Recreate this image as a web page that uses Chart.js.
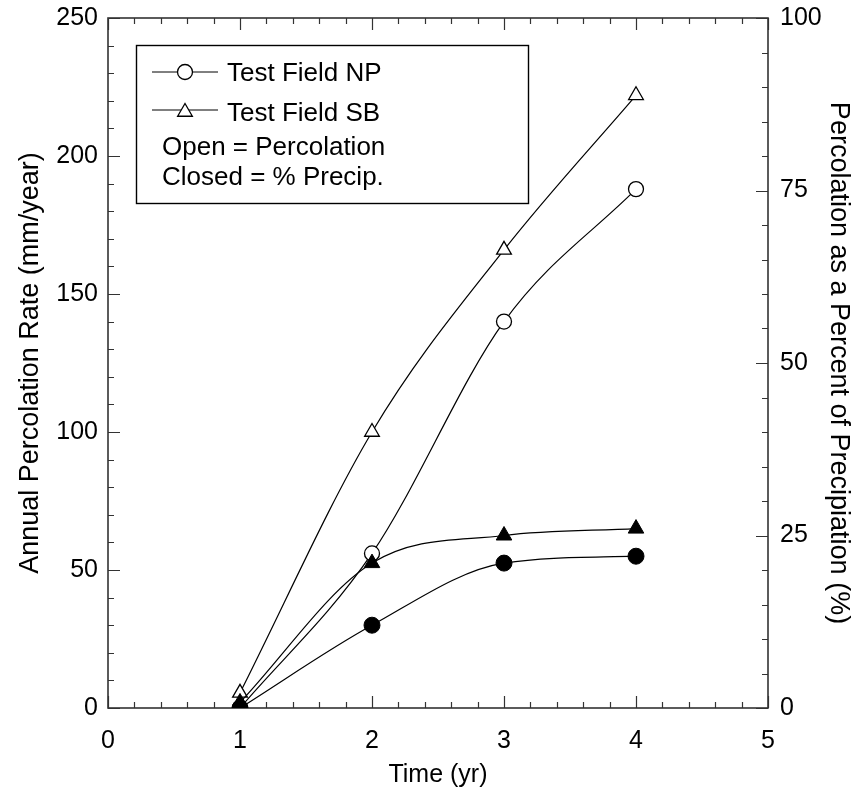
<!DOCTYPE html>
<html>
<head>
<meta charset="utf-8">
<title>Percolación anual</title>
<script src="https://cdn.jsdelivr.net/npm/chart.js@4/dist/chart.umd.min.js"></script>
<style>
    html, body { margin: 0; padding: 0; background: #fff; }
</style>
</head>
<body>
<canvas id="graficoPercolacion" width="857" height="794"></canvas>
<script>
// Años de medición
const anios = [1, 2, 3, 4];
// Percolación anual (mm/año) - eje izquierdo, marcadores abiertos
const percolacionNP = [0, 56, 140, 188];
const percolacionSB = [5.5, 100, 166, 222];
// Percolación como % de la precipitación - eje derecho, marcadores cerrados
const porcentajeNP = [0, 12, 21, 22];
const porcentajeSB = [0.8, 21, 25, 26];
// Marcas de los ejes
const ticksX = [0, 1, 2, 3, 4, 5];
const ticksIzq = [0, 50, 100, 150, 200, 250];
const ticksDer = [0, 25, 50, 75, 100];

const FUENTE = "'Liberation Sans', Arial, Helvetica, sans-serif";
const COLOR_EJE = '#333';

// Convierte una serie en pares {x, y}
function pares(valores) {
    return anios.map((a, i) => ({ x: a, y: valores[i] }));
}

// Marcas hacia adentro y marco del área de trazado
const marcasInternas = {
    id: 'marcasInternas',
    beforeDatasetsDraw(chart) {
        const { ctx, chartArea: a, scales } = chart;
        ctx.save();
        ctx.strokeStyle = COLOR_EJE;
        ctx.lineWidth = 1.2;
        ctx.beginPath();
        for (let i = 0; i <= 25; i++) {
            const px = Math.round(scales.x.getPixelForValue(i / 5)) + 0.5;
            const largo = i % 5 === 0 ? 12 : 6;
            ctx.moveTo(px, a.bottom); ctx.lineTo(px, a.bottom - largo);
            ctx.moveTo(px, a.top); ctx.lineTo(px, a.top + largo);
        }
        for (let i = 0; i <= 25; i++) {
            const py = Math.round(scales.y.getPixelForValue(i * 10)) + 0.5;
            const largo = i % 5 === 0 ? 12 : 6;
            ctx.moveTo(a.left, py); ctx.lineTo(a.left + largo, py);
        }
        for (let i = 0; i <= 20; i++) {
            const py = Math.round(scales.y2.getPixelForValue(i * 5)) + 0.5;
            const largo = i % 5 === 0 ? 12 : 6;
            ctx.moveTo(a.right, py); ctx.lineTo(a.right - largo, py);
        }
        ctx.stroke();
        ctx.lineWidth = 1.6;
        ctx.strokeRect(a.left, a.top, a.right - a.left, a.bottom - a.top);
        ctx.restore();
    }
};

// Recuadro de leyenda con la explicación de los marcadores
const leyenda = {
    id: 'leyenda',
    afterDraw(chart) {
        const ctx = chart.ctx;
        ctx.save();
        ctx.strokeStyle = '#000';
        ctx.lineWidth = 1.4;
        ctx.strokeRect(136.5, 45.5, 392, 158);

        ctx.lineWidth = 1;
        ctx.beginPath();
        ctx.moveTo(152, 72); ctx.lineTo(218, 72);
        ctx.moveTo(152, 110); ctx.lineTo(218, 110);
        ctx.stroke();

        // círculo abierto
        ctx.fillStyle = '#fff';
        ctx.lineWidth = 1.3;
        ctx.beginPath();
        ctx.arc(185, 72, 7.5, 0, Math.PI * 2);
        ctx.fill(); ctx.stroke();
        // triángulo abierto
        const r = 8.5;
        ctx.beginPath();
        for (let k = 0; k < 3; k++) {
            const ang = k * 2 * Math.PI / 3;
            const px = 185 + Math.sin(ang) * r;
            const py = 112 - Math.cos(ang) * r;
            if (k === 0) ctx.moveTo(px, py); else ctx.lineTo(px, py);
        }
        ctx.closePath();
        ctx.fill(); ctx.stroke();

        ctx.fillStyle = '#000';
        ctx.font = '26px ' + FUENTE;
        ctx.textBaseline = 'alphabetic';
        ctx.textAlign = 'left';
        ctx.fillText('Test Field NP', 227, 81);
        ctx.fillText('Test Field SB', 227, 121);
        ctx.fillText('Open = Percolation', 162, 155);
        ctx.fillText('Closed = % Precip.', 162, 185);
        ctx.restore();
    }
};

const estiloTicks = { color: '#000', font: { family: FUENTE, size: 25 } };
const estiloTitulo = { color: '#000', font: { family: FUENTE, size: 25 } };
const estiloTituloVertical = { color: '#000', font: { family: FUENTE, size: 27 } };

// Opciones comunes de cada serie
function serie(etiqueta, valores, eje, estilo, radio, relleno, borde) {
    return {
        label: etiqueta,
        data: pares(valores),
        yAxisID: eje,
        borderColor: '#000',
        borderWidth: 1.2,
        cubicInterpolationMode: 'monotone',
        pointStyle: estilo,
        pointRadius: radio,
        pointBackgroundColor: relleno,
        pointBorderColor: '#000',
        pointBorderWidth: borde
    };
}

// Ancho fijo de un eje vertical, sin reservar espacio extra arriba/abajo
function anchoFijo(ancho) {
    return s => {
        s.width = ancho;
        s.paddingTop = 0;
        s.paddingBottom = 0;
    };
}

const ctx = document.getElementById('graficoPercolacion').getContext('2d');
new Chart(ctx, {
    type: 'line',
    data: {
        datasets: [
            serie('Test Field NP (% Precip.)', porcentajeNP, 'y2', 'circle', 8, '#000', 1),
            serie('Test Field SB (% Precip.)', porcentajeSB, 'y2', 'triangle', 9, '#000', 1),
            serie('Test Field NP', percolacionNP, 'y', 'circle', 7.5, '#fff', 1.3),
            serie('Test Field SB', percolacionSB, 'y', 'triangle', 8.5, '#fff', 1.3)
        ]
    },
    options: {
        responsive: false,
        animation: false,
        devicePixelRatio: 1,
        layout: { padding: { top: 18 } },
        plugins: {
            legend: { display: false },
            tooltip: { enabled: false }
        },
        scales: {
            x: {
                type: 'linear',
                min: 0,
                max: 5,
                afterBuildTicks: s => { s.ticks = ticksX.map(v => ({ value: v })); },
                afterFit: s => { s.height = 86; s.paddingLeft = 0; s.paddingRight = 0; },
                ticks: { ...estiloTicks, padding: 18 },
                grid: { display: false, drawTicks: false },
                border: { display: false },
                title: { display: true, text: 'Time (yr)', ...estiloTitulo, padding: { top: 0, bottom: 4 } }
            },
            y: {
                position: 'left',
                min: 0,
                max: 250,
                afterBuildTicks: s => { s.ticks = ticksIzq.map(v => ({ value: v })); },
                afterFit: anchoFijo(108),
                ticks: { ...estiloTicks, padding: 10 },
                grid: { display: false, drawTicks: false },
                border: { display: false },
                title: { display: true, text: 'Annual Percolation Rate (mm/year)', ...estiloTituloVertical, padding: { top: 14, bottom: 0 } }
            },
            y2: {
                position: 'right',
                min: 0,
                max: 100,
                afterBuildTicks: s => { s.ticks = ticksDer.map(v => ({ value: v })); },
                afterFit: anchoFijo(89),
                ticks: { ...estiloTicks, padding: 12 },
                grid: { display: false, drawTicks: false },
                border: { display: false },
                title: { display: true, text: 'Percolation as a Percent of Precipiation (%)', ...estiloTituloVertical, padding: { top: 2, bottom: 0 } }
            }
        }
    },
    plugins: [marcasInternas, leyenda]
});
</script>
</body>
</html>
